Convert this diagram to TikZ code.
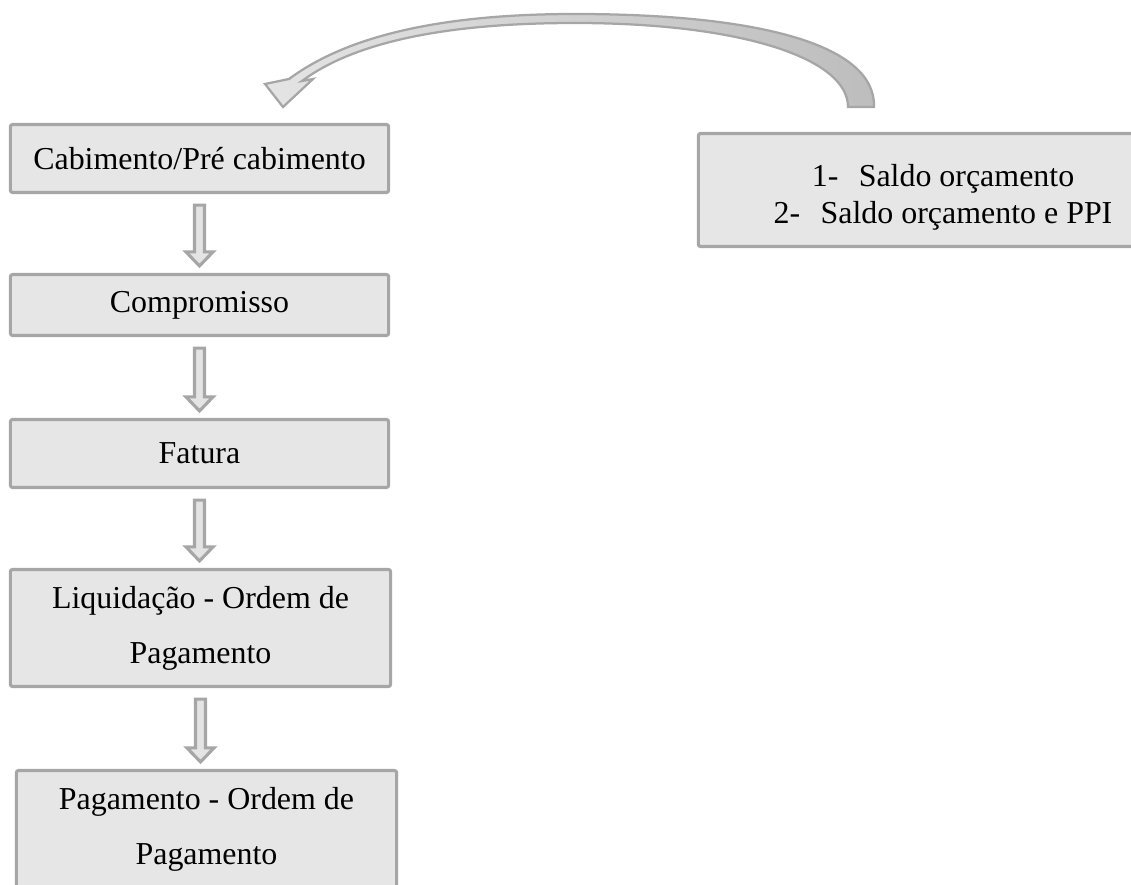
\documentclass[tikz,border=0pt]{standalone}
\usepackage{fontspec}
\setmainfont{Liberation Serif}
\usetikzlibrary{calc,positioning}
\definecolor{boxfill}{HTML}{E6E6E6}
\definecolor{boxline}{HTML}{A6A6A6}
\definecolor{arrfill}{HTML}{E4E4E4}
\definecolor{arrdark}{HTML}{BDBDBD}

\begin{document}
\begin{tikzpicture}[x=0.025cm, y=-0.025cm,
    stage/.style={draw=boxline,fill=boxfill,line width=2.2pt,rounded corners=1.5pt,align=center,inner sep=0pt,font=\fontsize{22.7}{39}\selectfont},
    downarr/.style={draw=boxline,fill=arrfill,line width=2.2pt},
    bigarr/.style={draw=boxline,line width=1.6pt,left color=arrfill,right color=arrdark}]
                      \useasboundingbox (0,0) rectangle (1131,885);
                      \clip (0,0) rectangle (1131,885);

                      \node[stage,minimum width=9.45cm,minimum height=1.7cm] (cab) at (199.5,158.5) {Cabimento/Pré cabimento};
                      \node[stage,minimum width=9.45cm,minimum height=1.525cm] (comp) at (199.5,305) {Compromisso};
                      \node[stage,minimum width=9.45cm,minimum height=1.7cm] (fat) at (199.5,453.5) {Fatura};
                      \node[stage,minimum width=9.5cm,minimum height=2.925cm] (liq) at (200.5,628) {Liquidação - Ordem de\\Pagamento};
                      \node[stage,minimum width=9.5cm,minimum height=2.925cm] (pag) at (206.5,829) {Pagamento - Ordem de\\Pagamento};
                      \node[stage,minimum width=12.225cm,minimum height=2.825cm,font=\fontsize{22.7}{26.3}\selectfont] (saldo) at (943,190) {\rule{0pt}{26pt}1-\hspace{0.64em}Saldo orçamento\\2-\hspace{0.64em}Saldo orçamento e PPI};

                      \draw[downarr] ($(cab.south)+(-5,11)$) -- ($(cab.south |- comp.north)+(-5,-21)$) -- ($(cab.south |- comp.north)+(-13.5,-21)$) -- ($(cab.south |- comp.north)+(0,-7)$) -- ($(cab.south |- comp.north)+(13.5,-21)$) -- ($(cab.south |- comp.north)+(5,-21)$) -- ($(cab.south)+(5,11)$) -- cycle;
                      \draw[downarr] ($(comp.south)+(-5,11)$) -- ($(comp.south |- fat.north)+(-5,-21)$) -- ($(comp.south |- fat.north)+(-13.5,-21)$) -- ($(comp.south |- fat.north)+(0,-7)$) -- ($(comp.south |- fat.north)+(13.5,-21)$) -- ($(comp.south |- fat.north)+(5,-21)$) -- ($(comp.south)+(5,11)$) -- cycle;
                      \draw[downarr] ($(fat.south)+(-5,11)$) -- ($(fat.south |- liq.north)+(-5,-21)$) -- ($(fat.south |- liq.north)+(-13.5,-21)$) -- ($(fat.south |- liq.north)+(0,-7)$) -- ($(fat.south |- liq.north)+(13.5,-21)$) -- ($(fat.south |- liq.north)+(5,-21)$) -- ($(fat.south)+(5,11)$) -- cycle;
                      \draw[downarr] ($(liq.south)+(-5,11)$) -- ($(liq.south |- pag.north)+(-5,-21)$) -- ($(liq.south |- pag.north)+(-13.5,-21)$) -- ($(liq.south |- pag.north)+(0,-7)$) -- ($(liq.south |- pag.north)+(13.5,-21)$) -- ($(liq.south |- pag.north)+(5,-21)$) -- ($(liq.south)+(5,11)$) -- cycle;

                      % curved arrow back to the first box
                      \coordinate (tailout) at (874,107);
                      \coordinate (tailin) at (848,107);
                      \coordinate (tip) at (283,107);
                      \draw[bigarr] (tailout) .. controls (876,45) and (760,14) .. (575,14) .. controls (460,14) and (355,30) .. (289,79) -- (265,84) -- (tip) -- (313,79) -- (302,81) .. controls (360,38) and (460,23) .. (575,23) .. controls (740,23) and (848,58) .. (tailin) -- cycle;
\end{tikzpicture}
\end{document}
